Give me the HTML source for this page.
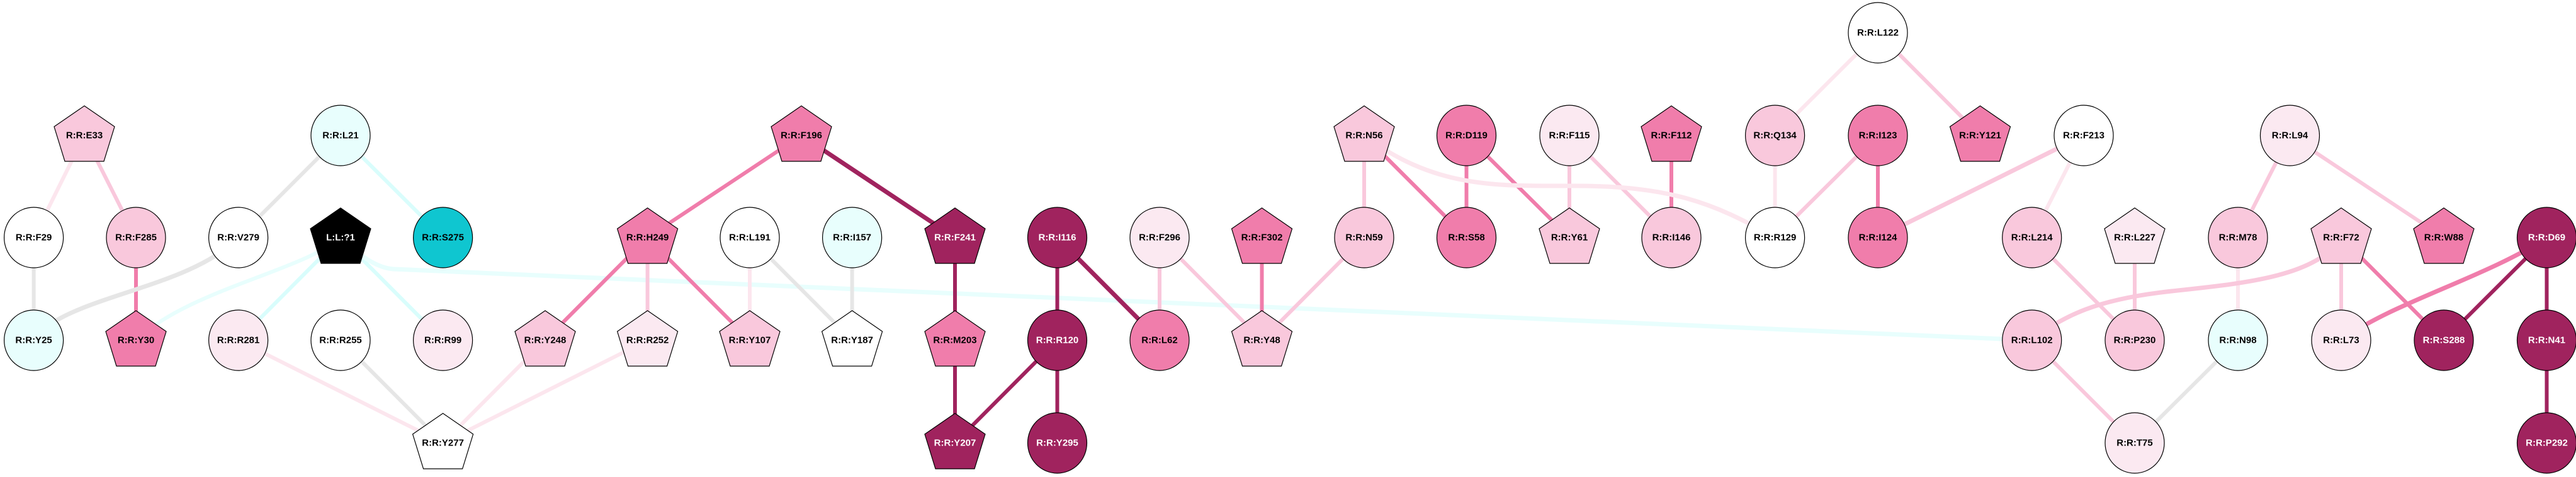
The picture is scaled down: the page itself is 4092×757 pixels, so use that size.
<!DOCTYPE html>
<html><head><meta charset="utf-8"><style>
html,body{margin:0;padding:0;background:#fff;}
svg{display:block;}
text{font-family:"Liberation Sans",Arial,sans-serif;font-weight:bold;font-size:15px;text-anchor:middle;dominant-baseline:central;}
</style></head><body>
<svg width="4092" height="757" viewBox="0 0 4092 757" xmlns="http://www.w3.org/2000/svg">
<defs>
<polygon id="pg" points="0,-47 48,-14 31,41 -31,41 -48,-14" stroke="#000" stroke-width="1.2"/>
</defs>
<g fill="none" stroke-linecap="butt">
<!-- edges -->
<g stroke-width="6">
<line x1="134" y1="215" x2="53.6" y2="377" stroke="#fce6ee"/>
<line x1="134" y1="215" x2="216" y2="377" stroke="#f9c8dc"/>
<line x1="53.6" y1="377" x2="53.6" y2="540" stroke="#e6e6e6"/>
<line x1="216" y1="377" x2="216" y2="540" stroke="#f07dab"/>
<path d="M378,377 C300,460 100,470 53,540" stroke="#e6e6e6" stroke-width="7"/>
<line x1="541" y1="215" x2="378.6" y2="377" stroke="#e6e6e6"/>
<line x1="541" y1="215" x2="703.6" y2="377" stroke="#d9fdfc"/>
<line x1="541" y1="377" x2="378.6" y2="540" stroke="#d9fdfc"/>
<line x1="541" y1="377" x2="703.6" y2="540" stroke="#d9fdfc"/>
<path d="M541,377 C480,430 300,460 216,540" stroke="#e8fefd"/>
<path d="M541,377 Q590,425 625,427 L3227,540" stroke="#e8fefd" stroke-width="7"/>
<line x1="378.6" y1="540" x2="703.6" y2="703" stroke="#fce6ee"/>
<line x1="541" y1="540" x2="703.6" y2="703" stroke="#e6e6e6"/>
<line x1="866" y1="540" x2="703.6" y2="703" stroke="#fce6ee"/>
<line x1="1028.6" y1="540" x2="703.6" y2="703" stroke="#fce6ee"/>
<line x1="1273" y1="215" x2="1028.6" y2="377" stroke="#f07dab"/>
<line x1="1273" y1="215" x2="1517" y2="377" stroke="#a0235e" stroke-width="7"/>
<line x1="1028.6" y1="377" x2="866" y2="540" stroke="#f07dab"/>
<line x1="1028.6" y1="377" x2="1028.6" y2="540" stroke="#f9c8dc"/>
<line x1="1028.6" y1="377" x2="1191" y2="540" stroke="#f07dab"/>
<line x1="1191" y1="377" x2="1191" y2="540" stroke="#fce6ee"/>
<line x1="1191" y1="377" x2="1353.6" y2="540" stroke="#e6e6e6"/>
<line x1="1353.6" y1="377" x2="1353.6" y2="540" stroke="#e6e6e6"/>
<line x1="1517" y1="377" x2="1517" y2="540" stroke="#a0235e"/>
<line x1="1517" y1="540" x2="1517" y2="703" stroke="#a0235e"/>
<line x1="1679.5" y1="540" x2="1517" y2="703" stroke="#a0235e"/>
<line x1="1679.5" y1="377" x2="1679.5" y2="540" stroke="#a0235e"/>
<line x1="1679.5" y1="377" x2="1842" y2="540" stroke="#a0235e" stroke-width="7"/>
<line x1="1679.5" y1="540" x2="1679.5" y2="703" stroke="#a0235e"/>
<line x1="1842" y1="377" x2="1842" y2="540" stroke="#f9c8dc"/>
<line x1="1842" y1="377" x2="2004.5" y2="540" stroke="#f9c8dc"/>
<line x1="2004.5" y1="377" x2="2004.5" y2="540" stroke="#f07dab"/>
<line x1="2167" y1="377" x2="2004.5" y2="540" stroke="#f9c8dc"/>
<line x1="2167" y1="215" x2="2167" y2="377" stroke="#f9c8dc"/>
<line x1="2167" y1="215" x2="2329.5" y2="377" stroke="#f07dab"/>
<line x1="2329.5" y1="215" x2="2329.5" y2="377" stroke="#f07dab"/>
<line x1="2329.5" y1="215" x2="2493" y2="377" stroke="#f07dab"/>
<line x1="2493" y1="215" x2="2493" y2="377" stroke="#f9c8dc"/>
<line x1="2493" y1="215" x2="2655" y2="377" stroke="#f9c8dc"/>
<line x1="2655" y1="215" x2="2655" y2="377" stroke="#f07dab"/>
<path d="M2167,215 C2280,300 2380,295 2500,295 C2650,295 2720,320 2819,377" stroke="#fce6ee" stroke-width="7"/>
<line x1="2983" y1="52" x2="2819.6" y2="215" stroke="#fce6ee"/>
<line x1="2983" y1="52" x2="3145.5" y2="215" stroke="#f9c8dc"/>
<line x1="2819.6" y1="215" x2="2819.6" y2="377" stroke="#fce6ee"/>
<line x1="2983" y1="215" x2="2819.6" y2="377" stroke="#f9c8dc"/>
<line x1="2983" y1="215" x2="2983" y2="377" stroke="#f07dab"/>
<line x1="3310" y1="215" x2="2983" y2="377" stroke="#f9c8dc" stroke-width="7"/>
<line x1="3310" y1="215" x2="3227.7" y2="377" stroke="#fce6ee"/>
<line x1="3227.7" y1="377" x2="3391" y2="540" stroke="#f9c8dc"/>
<line x1="3391" y1="377" x2="3391" y2="540" stroke="#f9c8dc"/>
<line x1="3637.5" y1="215" x2="3555" y2="377" stroke="#f9c8dc"/>
<line x1="3637.5" y1="215" x2="3882" y2="377" stroke="#f9c8dc"/>
<line x1="3555" y1="377" x2="3555" y2="540" stroke="#fce6ee"/>
<path d="M3719,377 C3680,440 3560,450 3450,462 C3330,475 3280,500 3227,540" stroke="#f9c8dc" stroke-width="7"/>
<line x1="3719" y1="377" x2="3719" y2="540" stroke="#f9c8dc"/>
<line x1="3719" y1="377" x2="3882" y2="540" stroke="#f07dab"/>
<path d="M4045.5,377 C3950,440 3800,480 3719,540" stroke="#f07dab" stroke-width="7"/>
<line x1="4045.5" y1="377" x2="3882" y2="540" stroke="#a0235e"/>
<line x1="4045.5" y1="377" x2="4045.5" y2="540" stroke="#a0235e"/>
<line x1="4045.5" y1="540" x2="4045.5" y2="703" stroke="#a0235e"/>
<line x1="3227.7" y1="540" x2="3391" y2="703" stroke="#f9c8dc"/>
<line x1="3555" y1="540" x2="3391" y2="703" stroke="#e6e6e6"/>
</g>
</g>
<g stroke="#000" stroke-width="1.2">
<!-- nodes: circles -->
<g>
<ellipse cx="53.6" cy="377" rx="47" ry="48" fill="#fff"/>
<ellipse cx="216" cy="377" rx="47" ry="48" fill="#f9c8dc"/>
<ellipse cx="378.6" cy="377" rx="47" ry="48" fill="#fff"/>
<ellipse cx="703.6" cy="377" rx="47" ry="48" fill="#0fc6d0"/>
<ellipse cx="541" cy="215" rx="47" ry="48" fill="#e8fefd"/>
<ellipse cx="1191" cy="377" rx="47" ry="48" fill="#fff"/>
<ellipse cx="1353.6" cy="377" rx="47" ry="48" fill="#e8fefd"/>
<ellipse cx="53.6" cy="540" rx="47" ry="48" fill="#e8fefd"/>
<ellipse cx="378.6" cy="540" rx="47" ry="48" fill="#fbe9f1"/>
<ellipse cx="541" cy="540" rx="47" ry="48" fill="#fff"/>
<ellipse cx="703.6" cy="540" rx="47" ry="48" fill="#fbe9f1"/>
<ellipse cx="1679.5" cy="377" rx="47" ry="48" fill="#a0235e"/>
<ellipse cx="1842" cy="377" rx="47" ry="48" fill="#fbe9f1"/>
<ellipse cx="2167" cy="377" rx="47" ry="48" fill="#f9c8dc"/>
<ellipse cx="2329.5" cy="377" rx="47" ry="48" fill="#f07dab"/>
<ellipse cx="2655" cy="377" rx="47" ry="48" fill="#f9c8dc"/>
<ellipse cx="2329.5" cy="215" rx="47" ry="48" fill="#f07dab"/>
<ellipse cx="2493" cy="215" rx="47" ry="48" fill="#fbe9f1"/>
<ellipse cx="1679.5" cy="540" rx="47" ry="48" fill="#a0235e"/>
<ellipse cx="1842" cy="540" rx="47" ry="48" fill="#f07dab"/>
<ellipse cx="1679.5" cy="703" rx="47" ry="48" fill="#a0235e"/>
<ellipse cx="2983" cy="52" rx="47" ry="48" fill="#fff"/>
<ellipse cx="2819.6" cy="215" rx="47" ry="48" fill="#f9c8dc"/>
<ellipse cx="2983" cy="215" rx="47" ry="48" fill="#f07dab"/>
<ellipse cx="3310" cy="215" rx="47" ry="48" fill="#fff"/>
<ellipse cx="3637.5" cy="215" rx="47" ry="48" fill="#fbe9f1"/>
<ellipse cx="2819.6" cy="377" rx="47" ry="48" fill="#fff"/>
<ellipse cx="2983" cy="377" rx="47" ry="48" fill="#f07dab"/>
<ellipse cx="3227.7" cy="377" rx="47" ry="48" fill="#f9c8dc"/>
<ellipse cx="3555" cy="377" rx="47" ry="48" fill="#f9c8dc"/>
<ellipse cx="4045.5" cy="377" rx="47" ry="48" fill="#a0235e"/>
<ellipse cx="3227.7" cy="540" rx="47" ry="48" fill="#f9c8dc"/>
<ellipse cx="3391" cy="540" rx="47" ry="48" fill="#f9c8dc"/>
<ellipse cx="3555" cy="540" rx="47" ry="48" fill="#e8fefd"/>
<ellipse cx="3719" cy="540" rx="47" ry="48" fill="#fbe9f1"/>
<ellipse cx="3882" cy="540" rx="47" ry="48" fill="#a0235e"/>
<ellipse cx="4045.5" cy="540" rx="47" ry="48" fill="#a0235e"/>
<ellipse cx="3391" cy="703" rx="47" ry="48" fill="#fbe9f1"/>
<ellipse cx="4045.5" cy="703" rx="47" ry="48" fill="#a0235e"/>
</g>
<!-- pentagons -->
<use href="#pg" x="134" y="215" fill="#f9c8dc"/>
<use href="#pg" x="541" y="377" fill="#000"/>
<use href="#pg" x="1273" y="215" fill="#f07dab"/>
<use href="#pg" x="1028.6" y="377" fill="#f07dab"/>
<use href="#pg" x="216" y="540" fill="#f07dab"/>
<use href="#pg" x="866" y="540" fill="#f9c8dc"/>
<use href="#pg" x="1028.6" y="540" fill="#fbe9f1"/>
<use href="#pg" x="1191" y="540" fill="#f9c8dc"/>
<use href="#pg" x="1353.6" y="540" fill="#fff"/>
<use href="#pg" x="703.6" y="703" fill="#fff"/>
<use href="#pg" x="1517" y="377" fill="#a0235e"/>
<use href="#pg" x="2004.5" y="377" fill="#f07dab"/>
<use href="#pg" x="2493" y="377" fill="#f9c8dc"/>
<use href="#pg" x="2167" y="215" fill="#f9c8dc"/>
<use href="#pg" x="2655" y="215" fill="#f07dab"/>
<use href="#pg" x="1517" y="540" fill="#f07dab"/>
<use href="#pg" x="2004.5" y="540" fill="#f9c8dc"/>
<use href="#pg" x="1517" y="703" fill="#a0235e"/>
<use href="#pg" x="3145.5" y="215" fill="#f07dab"/>
<use href="#pg" x="3391" y="377" fill="#fbe9f1"/>
<use href="#pg" x="3719" y="377" fill="#f9c8dc"/>
<use href="#pg" x="3882" y="377" fill="#f07dab"/>
</g>
<g fill="#000">
<text x="134" y="215">R:R:E33</text>
<text x="53.6" y="377">R:R:F29</text>
<text x="216" y="377">R:R:F285</text>
<text x="378.6" y="377">R:R:V279</text>
<text x="541" y="377" fill="#fff">L:L:?1</text>
<text x="703.6" y="377">R:R:S275</text>
<text x="541" y="215">R:R:L21</text>
<text x="1273" y="215">R:R:F196</text>
<text x="1028.6" y="377">R:R:H249</text>
<text x="1191" y="377">R:R:L191</text>
<text x="1353.6" y="377">R:R:I157</text>
<text x="53.6" y="540">R:R:Y25</text>
<text x="216" y="540">R:R:Y30</text>
<text x="378.6" y="540">R:R:R281</text>
<text x="541" y="540">R:R:R255</text>
<text x="703.6" y="540">R:R:R99</text>
<text x="866" y="540">R:R:Y248</text>
<text x="1028.6" y="540">R:R:R252</text>
<text x="1191" y="540">R:R:Y107</text>
<text x="1353.6" y="540">R:R:Y187</text>
<text x="703.6" y="703">R:R:Y277</text>
<text x="1517" y="377" fill="#fff">R:R:F241</text>
<text x="1679.5" y="377" fill="#fff">R:R:I116</text>
<text x="1842" y="377">R:R:F296</text>
<text x="2004.5" y="377">R:R:F302</text>
<text x="2167" y="377">R:R:N59</text>
<text x="2329.5" y="377">R:R:S58</text>
<text x="2493" y="377">R:R:Y61</text>
<text x="2655" y="377">R:R:I146</text>
<text x="2167" y="215">R:R:N56</text>
<text x="2329.5" y="215">R:R:D119</text>
<text x="2493" y="215">R:R:F115</text>
<text x="2655" y="215">R:R:F112</text>
<text x="1517" y="540">R:R:M203</text>
<text x="1679.5" y="540" fill="#fff">R:R:R120</text>
<text x="1842" y="540">R:R:L62</text>
<text x="2004.5" y="540">R:R:Y48</text>
<text x="1517" y="703" fill="#fff">R:R:Y207</text>
<text x="1679.5" y="703" fill="#fff">R:R:Y295</text>
<text x="2983" y="52">R:R:L122</text>
<text x="2819.6" y="215">R:R:Q134</text>
<text x="2983" y="215">R:R:I123</text>
<text x="3145.5" y="215">R:R:Y121</text>
<text x="3310" y="215">R:R:F213</text>
<text x="3637.5" y="215">R:R:L94</text>
<text x="2819.6" y="377">R:R:R129</text>
<text x="2983" y="377">R:R:I124</text>
<text x="3227.7" y="377">R:R:L214</text>
<text x="3391" y="377">R:R:L227</text>
<text x="3555" y="377">R:R:M78</text>
<text x="3719" y="377">R:R:F72</text>
<text x="3882" y="377">R:R:W88</text>
<text x="4045.5" y="377" fill="#fff">R:R:D69</text>
<text x="3227.7" y="540">R:R:L102</text>
<text x="3391" y="540">R:R:P230</text>
<text x="3555" y="540">R:R:N98</text>
<text x="3719" y="540">R:R:L73</text>
<text x="3882" y="540" fill="#fff">R:R:S288</text>
<text x="4045.5" y="540" fill="#fff">R:R:N41</text>
<text x="3391" y="703">R:R:T75</text>
<text x="4045.5" y="703" fill="#fff">R:R:P292</text>
</g>
</svg>
</body></html>
